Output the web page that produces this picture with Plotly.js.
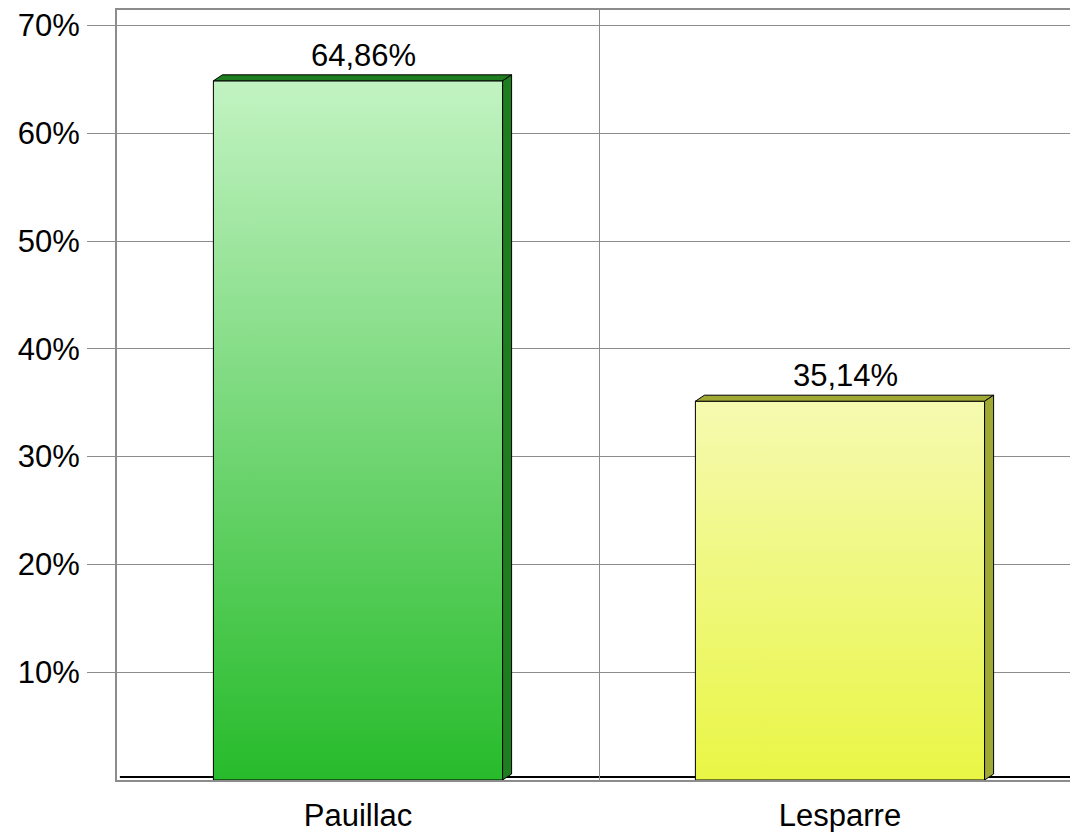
<!DOCTYPE html>
<html>
<head>
<meta charset="utf-8">
<script src="https://cdn.plot.ly/plotly-3.0.1.min.js"></script>
<style>
html,body{margin:0;padding:0;background:#fff;overflow:hidden;width:1070px;height:832px;}
#chart{width:1100px;height:832px;}
</style>
</head>
<body>
<div id="chart"></div>
<script>
// Data
var categories = ["Pauillac", "Lesparre"];
var shares = [64.86, 35.14];
var yTickValues = [10, 20, 30, 40, 50, 60, 70];
var yTickLabels = ["10%", "20%", "30%", "40%", "50%", "60%", "70%"];

// Styles
var frontTop = ["#c2f3c2", "#f5fab0"];
var frontBottom = ["#27bb2b", "#e9f645"];
var sideColors = ["#1e7d1e", "#a0a934"];
var FONT = "Liberation Sans, Arial, sans-serif";
var FS = 31;

var trace = {
  type: "bar",
  x: categories,
  y: shares,
  width: 0.6,
  marker: {color: frontBottom, line: {color: "#000", width: 1}},
  hoverinfo: "none"
};

var annotations = categories.map(function (c, i) {
  return {
    x: c, y: shares[i], xref: "x", yref: "y",
    text: shares[i].toFixed(2).replace(".", ",") + "%",
    showarrow: false, yanchor: "bottom", yshift: 6, xshift: 5,
    font: {family: FONT, size: FS, color: "#000"}
  };
});

var layout = {
  width: 1100, height: 832,
  margin: {l: 117, r: 19, t: 10, b: 52},
  paper_bgcolor: "#fff", plot_bgcolor: "#fff",
  font: {family: FONT, size: FS, color: "#000"},
  showlegend: false,
  xaxis: {
    type: "category",
    range: [-0.5, 1.5],
    tickson: "boundaries",
    showgrid: true, gridcolor: "#8c8c8c", gridwidth: 1,
    ticks: "", ticklen: 0,
    ticklabelstandoff: 7,
    showline: true, linecolor: "#8c8c8c", linewidth: 2, mirror: true,
    tickfont: {family: FONT, size: FS, color: "#000"},
    zeroline: false
  },
  yaxis: {
    range: [0, 71.43],
    tickvals: yTickValues, ticktext: yTickLabels,
    ticks: "outside", ticklen: 28, tickcolor: "#8c8c8c", tickwidth: 1,
    ticklabelstandoff: 1,
    showgrid: true, gridcolor: "#8c8c8c", gridwidth: 1,
    showline: true, linecolor: "#8c8c8c", linewidth: 2, mirror: true,
    zeroline: false,
    tickfont: {family: FONT, size: FS, color: "#000"}
  },
  shapes: [{
    type: "line", layer: "below",
    xref: "paper", yref: "paper", x0: 0.003, x1: 1, y0: 0.004, y1: 0.004,
    line: {color: "#000", width: 2}
  }],
  annotations: annotations
};

Plotly.newPlot("chart", [trace], layout, {displayModeBar: false, staticPlot: true}).then(function (gd) {
  var NS = "http://www.w3.org/2000/svg";
  var svg = gd.querySelector(".main-svg");
  var defs = svg.querySelector("defs") || svg.insertBefore(document.createElementNS(NS, "defs"), svg.firstChild);
  var paths = gd.querySelectorAll(".barlayer .trace .point path");
  var dx = 9, dy = 6;
  paths.forEach(function (p, i) {
    var g = document.createElementNS(NS, "linearGradient");
    g.setAttribute("id", "barGrad" + i);
    g.setAttribute("x1", "0"); g.setAttribute("y1", "0");
    g.setAttribute("x2", "0"); g.setAttribute("y2", "1");
    [[0, frontTop[i]], [1, frontBottom[i]]].forEach(function (s) {
      var st = document.createElementNS(NS, "stop");
      st.setAttribute("offset", s[0]);
      st.setAttribute("stop-color", s[1]);
      g.appendChild(st);
    });
    defs.appendChild(g);
    p.style.fill = "url(#barGrad" + i + ")";
    var b = p.getBBox();
    var x0 = b.x, x1 = b.x + b.width, y0 = b.y, y1 = b.y + b.height;
    var faces = [
      [[x0, y0], [x0 + dx, y0 - dy], [x1 + dx, y0 - dy], [x1, y0]],
      [[x1, y0], [x1 + dx, y0 - dy], [x1 + dx, y1 - dy], [x1, y1]]
    ];
    faces.forEach(function (f) {
      var poly = document.createElementNS(NS, "polygon");
      poly.setAttribute("points", f.map(function (pt) { return pt.join(","); }).join(" "));
      poly.setAttribute("fill", sideColors[i]);
      poly.setAttribute("stroke", "#000");
      poly.setAttribute("stroke-width", "1");
      poly.setAttribute("stroke-linejoin", "round");
      p.parentNode.appendChild(poly);
    });
  });
});
</script>
</body>
</html>
